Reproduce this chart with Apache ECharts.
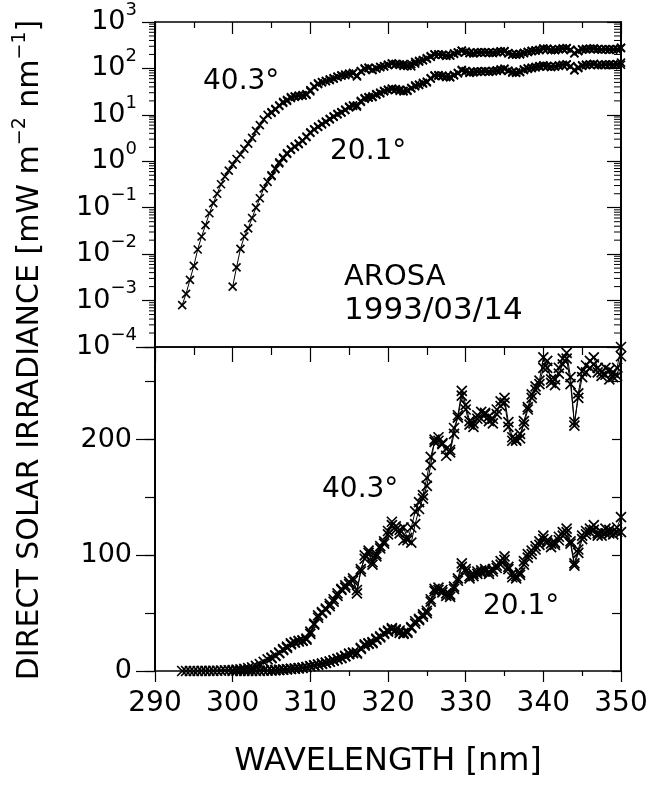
<!DOCTYPE html>
<html><head><meta charset="utf-8">
<script src="https://cdn.jsdelivr.net/npm/echarts@6/dist/echarts.min.js"></script>
<style>html,body{margin:0;padding:0;background:#fff}#c{width:655px;height:785px}</style>
</head><body><div id="c"></div>
<script>
// ---- data ----
// first scan, 40.3°
const WL_403 = [
  293.5,294,294.5,295,295.5,
  296,296.5,297,297.5,298,298.5,299,299.5,300,300.5,
  301,301.5,302,302.5,303,303.5,304,304.5,305,305.5,
  306,306.5,307,307.5,308,308.5,309,309.5,310,310.5,
  311,311.5,312,312.5,313,313.5,314,314.5,315,315.5,
  316,316.5,317,317.5,318,318.5,319,319.5,320,320.5,
  321,321.5,322,322.5,323,323.5,324,324.5,325,325.5,
  326,326.5,327,327.5,328,328.5,329,329.5,330,330.5,
  331,331.5,332,332.5,333,333.5,334,334.5,335,335.5,
  336,336.5,337,337.5,338,338.5,339,339.5,340,340.5,
  341,341.5,342,342.5,343,343.5,344,344.5,345,345.5,
  346,346.5,347,347.5,348,348.5,349,349.5,350
];
const IRR_403 = [
  0.0008,0.0014,0.0028,0.0056,0.0126,
  0.024,0.042,0.076,0.126,0.2,0.32,0.47,0.63,0.85,1.12,
  1.4,1.86,2.4,3.2,4.5,6,7.9,10,11.5,13.5,
  16,19,21,24,25,26,26,27,32,41,
  48,51,54,58,60,65,70,74,77,78,
  70,86,100,104,94,99,106,110,118,129,
  125,122,124,115,111,127,140,149,160,178,
  200,202,196,192,189,205,221,242,230,216,
  211,218,224,222,220,214,222,233,236,215,
  202,199,201,216,228,239,246,251,271,262,
  252,247,262,270,275,254,212,240,259,264,
  268,271,262,258,262,260,254,262,280
];
// first scan, 20.1°
const WL_201 = [
  300,300.5,301,301.5,302,302.5,303,303.5,304,304.5,
  305,305.5,306,306.5,307,307.5,308,308.5,309,309.5,
  310,310.5,311,311.5,312,312.5,313,313.5,314,314.5,
  315,315.5,316,316.5,317,317.5,318,318.5,319,319.5,
  320,320.5,321,321.5,322,322.5,323,323.5,324,324.5,
  325,325.5,326,326.5,327,327.5,328,328.5,329,329.5,
  330,330.5,331,331.5,332,332.5,333,333.5,334,334.5,
  335,335.5,336,336.5,337,337.5,338,338.5,339,339.5,
  340,340.5,341,341.5,342,342.5,343,343.5,344,344.5,
  345,345.5,346,346.5,347,347.5,348,348.5,349,349.5,350
];
const IRR_201 = [
  0.002,0.0052,0.013,0.024,0.036,0.06,0.1,0.16,0.26,0.36,
  0.5,0.7,0.95,1.2,1.5,1.8,2.1,2.4,2.8,3.4,
  4.2,4.9,5.6,6.4,7.2,8.2,9.3,10.5,11.5,13,
  15,16,16,20,23,24,25,28,30,33,
  35,37,36,35,33,34,38,43,45,49,
  52,62,71,72,70,67,66,73,80,93,
  88,82,84,86,87,88,86,88,91,95,
  99,90,84,82,85,95,101,104,108,112,
  117,113,110,111,116,120,123,112,93,105,
  117,121,123,126,119,120,123,122,121,124,133
];
// second scan (both angles), 305–350 nm
const WL_B = [
  305,305.5,306,306.5,307,307.5,308,308.5,309,309.5,
  310,310.5,311,311.5,312,312.5,313,313.5,314,314.5,
  315,315.5,316,316.5,317,317.5,318,318.5,319,319.5,
  320,320.5,321,321.5,322,322.5,323,323.5,324,324.5,
  325,325.5,326,326.5,327,327.5,328,328.5,329,329.5,
  330,330.5,331,331.5,332,332.5,333,333.5,334,334.5,
  335,335.5,336,336.5,337,337.5,338,338.5,339,339.5,
  340,340.5,341,341.5,342,342.5,343,343.5,344,344.5,
  345,345.5,346,346.5,347,347.5,348,348.5,349,349.5,350
];
const IRR_403B = [
  11,13,15.5,18,20,23,24.5,25.5,26.5,28,
  34,40,46,50,53,56,62,67,71,72,
  75,80,67,88,97,102,92,101,108,112,
  121,126,122,119,113,113,124,138,146,152,
  167,185,198,199,197,186,191,210,219,238,
  226,213,214,221,218,223,216,218,226,229,
  232,211,199,200,205,213,226,236,243,248,
  262,268,249,252,257,265,270,248,215,236,
  254,258,262,265,258,255,256,252,258,255,272
];
const IRR_201B = [
  0.48,0.68,0.9,1.15,1.45,1.75,2.05,2.35,2.75,3.3,
  4.1,4.8,5.5,6.2,7.0,8.0,9.0,10.2,11.2,12.6,
  14.5,15.5,15,19,22,23.5,24,27,29,32,
  34,36,35,33,32,33,37,41,44,47,
  50,60,69,70,68,65,64,71,78,90,
  86,80,82,84,85,86,84,86,89,92,
  96,88,81,80,83,92,98,101,105,109,
  114,111,107,109,113,117,120,110,91,102,
  114,118,120,122,117,117,119,119,118,120,120
];
const X_MIN = 290, X_MAX = 350;
const LOG_MIN = 1e-4, LOG_MAX = 1e3;
const LIN_MAX = 280;
const LOG_DECADES = [-4,-3,-2,-1,0,1,2];
const LOG_MINOR_MULT = [2,3,4,5,6,7,8,9];
const LABELS = [
  {text:'40.3°', x:203, y:82, size:28},
  {text:'20.1°', x:330, y:152, size:28},
  {text:'AROSA', x:344, y:277, size:29},
  {text:'1993/03/14', x:344, y:311, size:31},
  {text:'40.3°', x:322, y:490, size:28},
  {text:'20.1°', x:483, y:607, size:28}
];

// ---- chart ----
const FONT = 'DejaVu Sans';
const BLACK = '#000';
const pairs = (xs, ys) => xs.map((x, i) => [x, ys[i]]);
const logMinor = [];
LOG_DECADES.forEach(d => LOG_MINOR_MULT.forEach(m => logMinor.push(m * Math.pow(10, d))));

const chart = echarts.init(document.getElementById('c'), null, {renderer: 'canvas'});
const lineAx = w => ({show: true, onZero: false, lineStyle: {color: BLACK, width: w}});
const tickStyle = {color: BLACK, width: 1.2};
const xBase = {type: 'value', min: X_MIN, max: X_MAX, interval: 10, splitLine: {show: false}, axisLabel: {show: false}};
const sup = e => (e < 0 ? '\u2212' + Math.abs(e) : '' + e);
const XMARK = 'path://M0,0L10,10M0,10L10,0';
const mkSeries = (name, data, xi, yi, size, bw) => ({
  name, type: 'line', data, xAxisIndex: xi, yAxisIndex: yi,
  symbol: XMARK, symbolSize: size, showSymbol: true, clip: true,
  lineStyle: {color: BLACK, width: 1},
  itemStyle: {color: 'none', borderColor: BLACK, borderWidth: bw},
  emphasis: {disabled: true}, animation: false, z: 3
});

chart.setOption({
  animation: false,
  backgroundColor: '#fff',
  grid: [
    {left: 155, right: 34, top: 22, height: 325},
    {left: 155, right: 34, top: 347, height: 324}
  ],
  xAxis: [
    Object.assign({}, xBase, {gridIndex: 0, position: 'bottom', axisLine: lineAx(1.5), axisTick: {show: false}}),
    Object.assign({}, xBase, {gridIndex: 0, position: 'top', axisLine: lineAx(1.5),
      axisTick: {show: true, inside: true, length: 12, lineStyle: tickStyle},
      minorTick: {show: true, splitNumber: 2, length: 6, lineStyle: tickStyle}}),
    Object.assign({}, xBase, {gridIndex: 1, position: 'top', axisLine: lineAx(1.5),
      axisTick: {show: true, inside: true, length: 15, lineStyle: tickStyle},
      minorTick: {show: true, splitNumber: 2, length: 8, lineStyle: tickStyle}}),
    Object.assign({}, xBase, {gridIndex: 1, position: 'bottom', axisLine: lineAx(1.5),
      axisTick: {show: true, inside: false, length: 11, lineStyle: tickStyle},
      minorTick: {show: true, splitNumber: 2, length: 5, lineStyle: tickStyle},
      axisLabel: {show: true, fontFamily: FONT, fontSize: 28, color: BLACK, margin: 19}})
  ],
  yAxis: [
    {type: 'log', logBase: 10, gridIndex: 0, position: 'left', min: LOG_MIN, max: LOG_MAX,
      splitLine: {show: false}, axisLine: lineAx(2),
      axisTick: {show: true, inside: false, length: 13, lineStyle: tickStyle},
      axisLabel: {margin: 18, showMinLabel: true, showMaxLabel: true,
        formatter: v => '{b|10}{s|' + sup(Math.round(Math.log10(v))) + '}',
        rich: {b: {fontFamily: FONT, fontSize: 27, color: BLACK},
               s: {fontFamily: FONT, fontSize: 18, color: BLACK, padding: [0, 0, 24, 0]}}}},
    {type: 'log', logBase: 10, gridIndex: 0, position: 'right', min: LOG_MIN, max: LOG_MAX,
      splitLine: {show: false}, axisLine: lineAx(2),
      axisTick: {show: true, inside: true, length: 14, lineStyle: tickStyle},
      axisLabel: {show: false}},
    {type: 'value', gridIndex: 1, position: 'left', min: 0, max: LIN_MAX, interval: 100,
      splitLine: {show: false}, axisLine: lineAx(2),
      axisTick: {show: true, inside: false, length: 19, lineStyle: tickStyle},
      axisLabel: {margin: 23, fontFamily: FONT, fontSize: 27, color: BLACK,
        formatter: v => (v % 100 === 0 ? String(v) : '')}},
    {type: 'value', gridIndex: 1, position: 'left', min: 0, max: LIN_MAX, interval: 50,
      splitLine: {show: false}, axisLine: {show: false},
      axisTick: {show: true, inside: false, length: 10, lineStyle: tickStyle},
      axisLabel: {show: false}},
    {type: 'value', gridIndex: 1, position: 'right', min: 0, max: LIN_MAX, interval: 50,
      splitLine: {show: false}, axisLine: lineAx(2),
      axisTick: {show: true, inside: true, length: 9, lineStyle: tickStyle},
      axisLabel: {show: false}}
  ],
  series: [
    mkSeries('40.3 log', pairs(WL_403, IRR_403), 0, 0, 8, 1.7),
    mkSeries('20.1 log', pairs(WL_201, IRR_201), 0, 0, 8, 1.7),
    mkSeries('40.3 log B', pairs(WL_B, IRR_403B), 0, 0, 8, 1.7),
    mkSeries('20.1 log B', pairs(WL_B, IRR_201B), 0, 0, 8, 1.7),
    mkSeries('40.3 lin', pairs(WL_403, IRR_403), 3, 2, 10, 1.7),
    mkSeries('20.1 lin', pairs(WL_201, IRR_201), 3, 2, 10, 1.7),
    mkSeries('40.3 lin B', pairs(WL_B, IRR_403B), 3, 2, 10, 1.7),
    mkSeries('20.1 lin B', pairs(WL_B, IRR_201B), 3, 2, 10, 1.7),
    {type: 'custom', xAxisIndex: 0, yAxisIndex: 0, silent: true, clip: false, z: 5,
      data: logMinor.map(v => [X_MIN, v]),
      renderItem: (p, api) => {
        const v = api.value(1);
        const l = api.coord([X_MIN, v]);
        const r = api.coord([X_MAX, v]);
        return {type: 'group', children: [
          {type: 'line', shape: {x1: l[0] - 6, y1: l[1], x2: l[0], y2: l[1]}, style: {stroke: BLACK, lineWidth: 1}},
          {type: 'line', shape: {x1: r[0] - 7, y1: r[1], x2: r[0], y2: r[1]}, style: {stroke: BLACK, lineWidth: 1}}
        ]};
      }}
  ],
  graphic: LABELS.map(l => ({
    type: 'text', x: l.x, y: l.y, silent: true,
    style: {text: l.text, fontFamily: FONT, fontSize: l.size, fill: BLACK,
      textAlign: 'left', textVerticalAlign: 'middle', align: 'left', verticalAlign: 'middle'}
  })).concat([
    {type: 'text', x: 388, y: 762, silent: true,
      style: {text: 'WAVELENGTH [nm]', fontFamily: FONT, fontSize: 32, fill: BLACK,
        textAlign: 'center', textVerticalAlign: 'middle', align: 'center', verticalAlign: 'middle'}},
    {type: 'text', x: 30, y: 350, rotation: Math.PI / 2, silent: true,
      style: {text: 'DIRECT SOLAR IRRADIANCE [mW m{s|\u22122} nm{s|\u22121}]',
        fontFamily: FONT, fontSize: 30, fill: BLACK,
        textAlign: 'center', textVerticalAlign: 'middle', align: 'center', verticalAlign: 'middle',
        rich: {s: {fontFamily: FONT, fontSize: 19, fill: BLACK, padding: [0, 0, 20, 0]}}}}
  ])
});
</script></body></html>
